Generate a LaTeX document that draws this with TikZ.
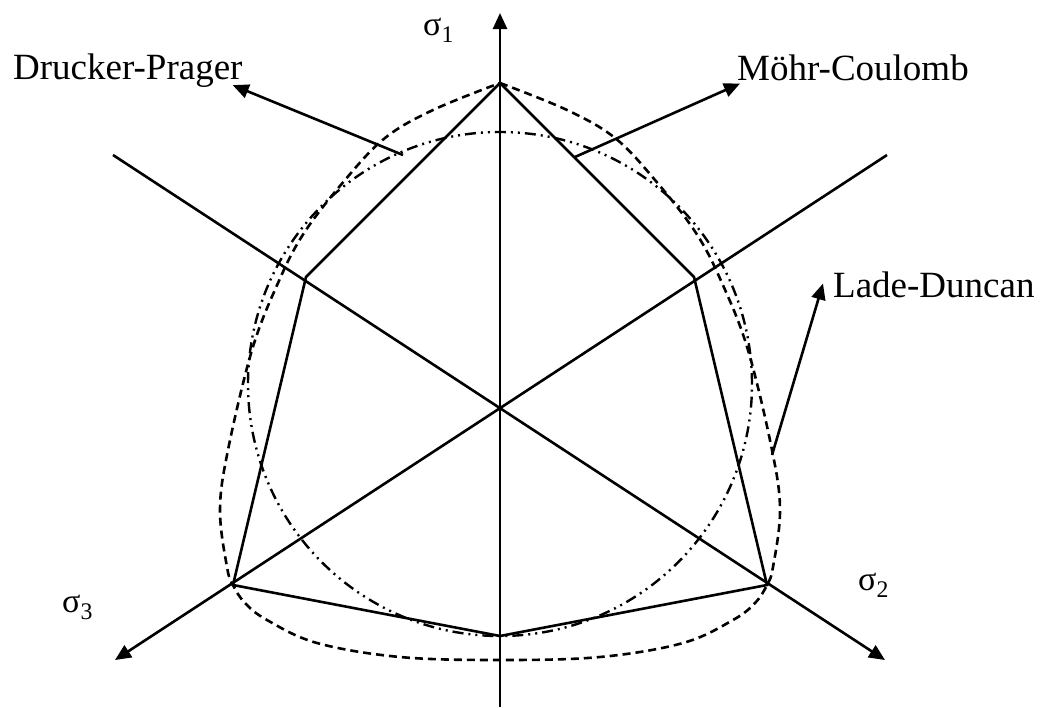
\documentclass[tikz,border=0pt]{standalone}
\usepackage{fontspec}
\setmainfont{Liberation Serif}
\usetikzlibrary{arrows.meta}

\begin{document}
\begin{tikzpicture}[x=1pt, y=-1pt,
	ax/.style={line width=2.6pt, -{Triangle[length=16pt, width=14pt]}},
	ptr/.style={line width=2.6pt, -{Triangle[length=16pt, width=14pt]}},
	mohr/.style={line width=2.6pt, line join=miter},
	lade/.style={line width=2.6pt, dash pattern=on 8pt off 5pt},
	druck/.style={line width=2.4pt, dash pattern=on 11pt off 5pt on 2pt off 5pt on 2pt off 5pt},
	lbl/.style={font=\fontsize{37}{40}\selectfont, inner sep=0pt, anchor=base west},
	sig/.style={font=\fontsize{34}{38}\selectfont, inner sep=0pt, anchor=base west}]
	\useasboundingbox (0,0) rectangle (1044,707);
	\coordinate (s1tail) at (500,707); \coordinate (s1head) at (500,13);
	\coordinate (s2tail) at (113,155); \coordinate (s2head) at (885,660);
	\coordinate (s3tail) at (887,155); \coordinate (s3head) at (115,660);
	\draw[ax] (s1tail) -- (s1head);
	\draw[ax] (s2tail) -- (s2head);
	\draw[ax] (s3tail) -- (s3head);
	\node[sig] (s1) at (423,35) {σ\textsubscript{1}};
	\node[sig] (s2) at (858,590) {σ\textsubscript{2}};
	\node[sig] (s3) at (62,612) {σ\textsubscript{3}};
	% Mohr-Coulomb hexagon
	\coordinate (mtop) at (500,83); \coordinate (mur) at (694,277); \coordinate (mlr) at (767,585);
	\coordinate (mbot) at (500,636); \coordinate (mll) at (233,585); \coordinate (mul) at (306,277);
	\draw[mohr] (mtop) -- (mur) -- (mlr) -- (mbot) -- (mll) -- (mul) -- cycle;
	% Drucker-Prager circle
	\coordinate (dpc) at (500,384);
	\draw[druck] (dpc) circle[radius=252pt];
	% Lade-Duncan
	\draw[lade] plot[smooth, tension=0.6] coordinates {(500,83) (567,110) (615,138) (655,180) (696,233) (722,283) (748,350) (772,450) (780,510) (773,567) (767,585) (755,603) (733,620) (683,643) (600,657) (500,660) (400,657) (317,643) (267,620) (245,603) (233,585) (227,567) (220,510) (228,450) (252,350) (278,283) (304,233) (345,180) (385,138) (433,110) (500,83)};
	\node[lbl] (dp) at (13,79) {Drucker-Prager};
	\node[lbl] (mc) at (737,80) {Möhr-Coulomb};
	\node[lbl] (ld) at (833,297) {Lade-Duncan};
	\coordinate (dpfoot) at (403,155);
	\coordinate (mcfoot) at (575,157);
	\coordinate (ldfoot) at (772,455);
	\draw[ptr] (dpfoot) -- ([shift={(-10pt,2pt)}]dp.south east);
	\draw[ptr] (mcfoot) -- ([shift={(3pt,-3pt)}]mc.south west);
	\draw[ptr] (ldfoot) -- ([shift={(-10pt,14pt)}]ld.south west);
\end{tikzpicture}
\end{document}
